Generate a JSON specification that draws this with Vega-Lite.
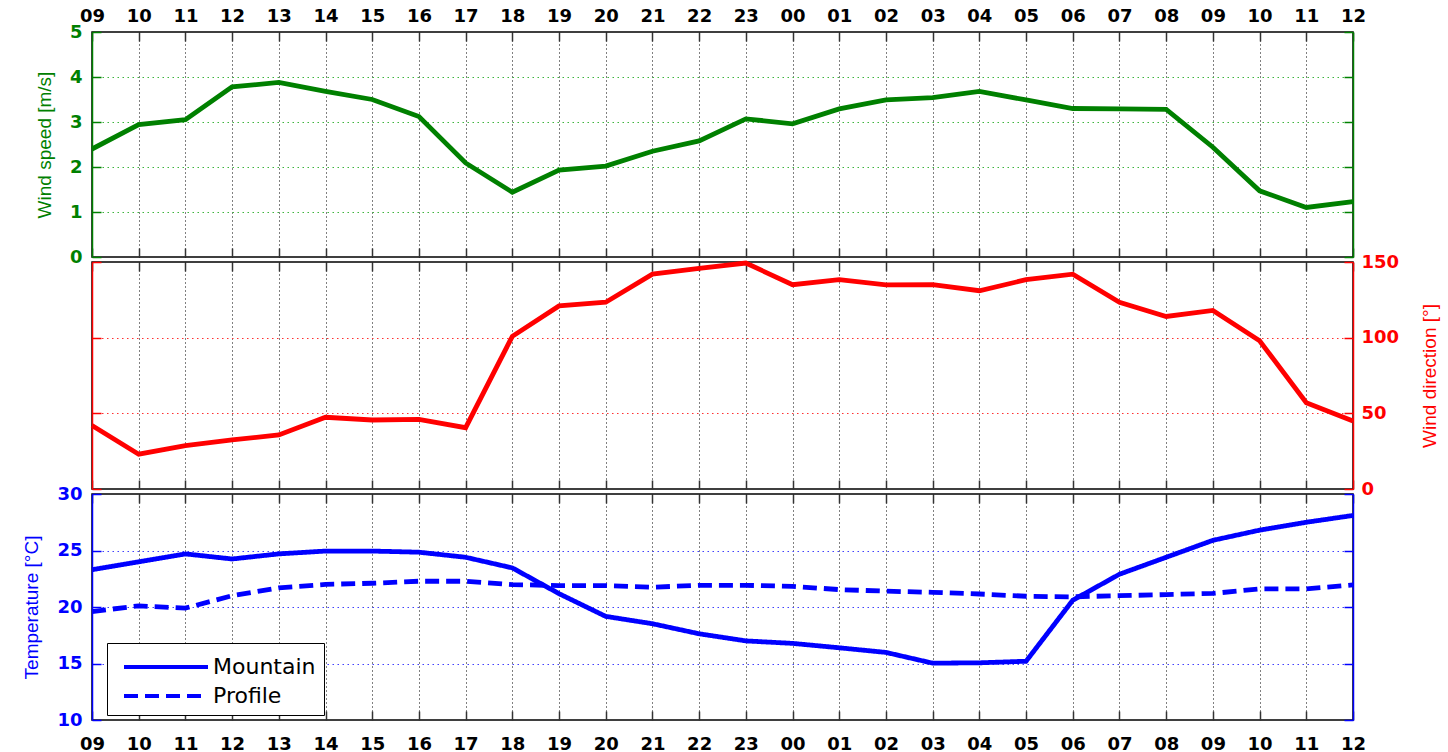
{
  "$schema": "https://vega.github.io/schema/vega-lite/v6.json",
  "padding": {"left": 22, "top": 6, "right": 0, "bottom": 0},
  "background": "white",
  "spacing": 5,
  "bounds": "flush",
  "datasets": {
    "met": [
      {"t": 0, "ws": 2.4, "wd": 42, "Mountain": 23.3, "Profile": 19.6},
      {"t": 1, "ws": 2.94, "wd": 23, "Mountain": 24.0, "Profile": 20.1},
      {"t": 2, "ws": 3.05, "wd": 28.7, "Mountain": 24.7, "Profile": 19.9},
      {"t": 3, "ws": 3.78, "wd": 32.4, "Mountain": 24.25, "Profile": 21.0},
      {"t": 4, "ws": 3.88, "wd": 35.7, "Mountain": 24.7, "Profile": 21.7},
      {"t": 5, "ws": 3.68, "wd": 47.4, "Mountain": 24.95, "Profile": 22.0},
      {"t": 6, "ws": 3.5, "wd": 45.6, "Mountain": 24.95, "Profile": 22.1},
      {"t": 7, "ws": 3.12, "wd": 46, "Mountain": 24.85, "Profile": 22.28},
      {"t": 8, "ws": 2.09, "wd": 40.5, "Mountain": 24.4, "Profile": 22.28},
      {"t": 9, "ws": 1.44, "wd": 100.9, "Mountain": 23.46, "Profile": 21.98},
      {"t": 10, "ws": 1.93, "wd": 121, "Mountain": 21.18, "Profile": 21.9},
      {"t": 11, "ws": 2.02, "wd": 123.4, "Mountain": 19.17, "Profile": 21.9},
      {"t": 12, "ws": 2.35, "wd": 142, "Mountain": 18.52, "Profile": 21.75},
      {"t": 13, "ws": 2.58, "wd": 145.8, "Mountain": 17.63, "Profile": 21.92},
      {"t": 14, "ws": 3.07, "wd": 149.3, "Mountain": 17.0, "Profile": 21.92},
      {"t": 15, "ws": 2.96, "wd": 135, "Mountain": 16.78, "Profile": 21.83},
      {"t": 16, "ws": 3.29, "wd": 138.3, "Mountain": 16.39, "Profile": 21.54},
      {"t": 17, "ws": 3.49, "wd": 134.9, "Mountain": 15.98, "Profile": 21.4},
      {"t": 18, "ws": 3.54, "wd": 135, "Mountain": 15.03, "Profile": 21.3},
      {"t": 19, "ws": 3.68, "wd": 131, "Mountain": 15.06, "Profile": 21.15},
      {"t": 20, "ws": 3.49, "wd": 138.3, "Mountain": 15.2, "Profile": 20.95},
      {"t": 21, "ws": 3.3, "wd": 142, "Mountain": 20.6, "Profile": 20.9},
      {"t": 22, "ws": 3.29, "wd": 123.4, "Mountain": 22.9, "Profile": 21.0},
      {"t": 23, "ws": 3.28, "wd": 114, "Mountain": 24.4, "Profile": 21.1},
      {"t": 24, "ws": 2.44, "wd": 118, "Mountain": 25.9, "Profile": 21.2},
      {"t": 25, "ws": 1.47, "wd": 98, "Mountain": 26.8, "Profile": 21.6},
      {"t": 26, "ws": 1.1, "wd": 57, "Mountain": 27.5, "Profile": 21.6},
      {"t": 27, "ws": 1.23, "wd": 45, "Mountain": 28.1, "Profile": 21.95}
    ]
  },
  "vconcat": [
    {
      "width": 1261,
      "height": 225,
      "data": {"name": "met"},
      "layer": [
        {
          "mark": {"type": "line", "color": "#008000", "strokeWidth": 4.8},
          "encoding": {
            "x": {"field": "t", "type": "quantitative",
              "scale": {"domain": [0, 27], "nice": false, "zero": false},
              "axis": {"orient": "top", "title": null, "values": [0,1,2,3,4,5,6,7,8,9,10,11,12,13,14,15,16,17,18,19,20,21,22,23,24,25,26,27],
                "labelExpr": "((datum.value+9)%24<10?'0':'')+((datum.value+9)%24)",
                "grid": true, "domain": false, "labelPadding": 16,
                "gridOpacity": {"condition": {"test": "datum.value===0||datum.value===27", "value": 0}, "value": 1}}},
            "y": {"field": "ws", "type": "quantitative",
              "scale": {"domain": [0, 5], "nice": false, "zero": false},
              "axis": {"values": [0,1,2,3,4,5], "title": "Wind speed [m/s]", "titleColor": "#008000", "labelColor": "#008000",
                "tickColor": "#008000", "domainColor": "#008000", "gridColor": "#3cb43c", "gridDash": [1.5, 3.5],
                "gridOpacity": {"condition": {"test": "datum.value===0||datum.value===5", "value": 0}, "value": 1}}}
          }
        },
        {
          "mark": {"type": "line", "strokeOpacity": 0},
          "encoding": {
            "x": {"field": "t", "type": "quantitative",
              "scale": {"domain": [0, 27], "nice": false, "zero": false},
              "axis": {"orient": "bottom", "title": null, "values": [0,1,2,3,4,5,6,7,8,9,10,11,12,13,14,15,16,17,18,19,20,21,22,23,24,25,26,27],
                "labels": false, "grid": false, "domain": false}},
            "y": {"field": "ws", "type": "quantitative",
              "scale": {"domain": [0, 5], "nice": false, "zero": false},
              "axis": {"orient": "right", "values": [0,1,2,3,4,5], "title": null, "labels": false, "grid": false,
                "tickColor": "#008000", "domainColor": "#008000"}}
          }
        }
      ],
      "resolve": {"axis": {"x": "independent", "y": "independent"}}
    },
    {
      "width": 1261,
      "height": 227,
      "data": {"name": "met"},
      "layer": [
        {
          "mark": {"type": "line", "color": "#ff0000", "strokeWidth": 4.8},
          "encoding": {
            "x": {"field": "t", "type": "quantitative",
              "scale": {"domain": [0, 27], "nice": false, "zero": false},
              "axis": {"orient": "bottom", "title": null, "values": [0,1,2,3,4,5,6,7,8,9,10,11,12,13,14,15,16,17,18,19,20,21,22,23,24,25,26,27],
                "labels": false, "grid": true, "domain": false,
                "gridOpacity": {"condition": {"test": "datum.value===0||datum.value===27", "value": 0}, "value": 1}}},
            "y": {"field": "wd", "type": "quantitative",
              "scale": {"domain": [0, 150], "nice": false, "zero": false},
              "axis": {"orient": "right", "values": [0, 50, 100, 150], "title": "Wind direction [°]", "titleAngle": -90, "titleBaseline": "top", "titlePadding": 22, "titleColor": "#ff0000", "labelColor": "#ff0000",
                "labelPadding": 17, "tickColor": "#ff0000", "domainColor": "#ff0000", "gridColor": "#ff3030", "gridDash": [1.5, 3.5],
                "gridOpacity": {"condition": {"test": "datum.value===0||datum.value===150", "value": 0}, "value": 1}}}
          }
        },
        {
          "mark": {"type": "line", "strokeOpacity": 0},
          "encoding": {
            "x": {"field": "t", "type": "quantitative",
              "scale": {"domain": [0, 27], "nice": false, "zero": false},
              "axis": {"orient": "top", "title": null, "values": [0,1,2,3,4,5,6,7,8,9,10,11,12,13,14,15,16,17,18,19,20,21,22,23,24,25,26,27],
                "labels": false, "grid": false, "domain": false}},
            "y": {"field": "wd", "type": "quantitative",
              "scale": {"domain": [0, 150], "nice": false, "zero": false},
              "axis": {"orient": "left", "values": [0, 50, 100, 150], "title": null, "labels": false, "grid": false,
                "tickColor": "#ff0000", "domainColor": "#ff0000"}}
          }
        }
      ],
      "resolve": {"axis": {"x": "independent", "y": "independent"}}
    },
    {
      "width": 1261,
      "height": 226,
      "data": {"name": "met"},
      "layer": [
        {
          "transform": [{"fold": ["Mountain", "Profile"], "as": ["series", "temp"]}],
          "mark": {"type": "line", "color": "#0000ff", "strokeWidth": 4.8},
          "encoding": {
            "x": {"field": "t", "type": "quantitative",
              "scale": {"domain": [0, 27], "nice": false, "zero": false},
              "axis": {"orient": "bottom", "title": null, "values": [0,1,2,3,4,5,6,7,8,9,10,11,12,13,14,15,16,17,18,19,20,21,22,23,24,25,26,27],
                "labelExpr": "((datum.value+9)%24<10?'0':'')+((datum.value+9)%24)",
                "grid": true, "domain": false, "labelPadding": 24,
                "gridOpacity": {"condition": {"test": "datum.value===0||datum.value===27", "value": 0}, "value": 1}}},
            "y": {"field": "temp", "type": "quantitative",
              "scale": {"domain": [10, 30], "nice": false, "zero": false},
              "axis": {"values": [10, 15, 20, 25, 30], "title": "Temperature [°C]", "titleColor": "#0000ff", "labelColor": "#0000ff",
                "tickColor": "#0000ff", "domainColor": "#0000ff", "gridColor": "#4040ff", "gridDash": [1.5, 3.5],
                "gridOpacity": {"condition": {"test": "datum.value===10||datum.value===30", "value": 0}, "value": 1}}},
            "strokeDash": {"field": "series", "type": "nominal",
              "scale": {"domain": ["Mountain", "Profile"], "range": [[1, 0], [14, 7]]},
              "legend": {"orient": "none", "legendX": 15, "legendY": 611, "title": null,
                "fillColor": "white", "strokeColor": "black", "padding": 8,
                "symbolType": "M-3,0H3", "symbolSize": 784, "symbolOffset": 35, "symbolStrokeWidth": 4, "symbolStrokeColor": "#0000ff",
                "labelFont": "DejaVu Sans", "labelFontSize": 22, "labelColor": "black", "labelFontWeight": "normal",
                "labelOffset": 31, "rowPadding": 2}}
          }
        },
        {
          "mark": {"type": "line", "strokeOpacity": 0},
          "encoding": {
            "x": {"field": "t", "type": "quantitative",
              "scale": {"domain": [0, 27], "nice": false, "zero": false},
              "axis": {"orient": "top", "title": null, "values": [0,1,2,3,4,5,6,7,8,9,10,11,12,13,14,15,16,17,18,19,20,21,22,23,24,25,26,27],
                "labels": false, "grid": false, "domain": false}},
            "y": {"field": "Mountain", "type": "quantitative",
              "scale": {"domain": [10, 30], "nice": false, "zero": false},
              "axis": {"orient": "right", "values": [10, 15, 20, 25, 30], "title": null, "labels": false, "grid": false,
                "tickColor": "#0000ff", "domainColor": "#0000ff"}}
          }
        }
      ],
      "resolve": {"axis": {"x": "independent", "y": "independent"}}
    }
  ],
  "config": {
    "view": {"stroke": "black", "strokeWidth": 1.5},
    "axis": {
      "labelFont": "DejaVu Sans", "labelFontWeight": "bold", "labelFontSize": 18, "labelColor": "black",
      "labelFlush": false, "labelOverlap": false, "labelPadding": 19,
      "titleFont": "Liberation Sans", "titleFontWeight": "normal", "titleFontSize": 19,
      "titlePadding": 15,
      "tickSize": -9, "tickWidth": 1.5, "tickColor": "#333333",
      "domainWidth": 1.5,
      "gridColor": "black", "gridDash": [1, 3], "gridWidth": 1
    }
  }
}
